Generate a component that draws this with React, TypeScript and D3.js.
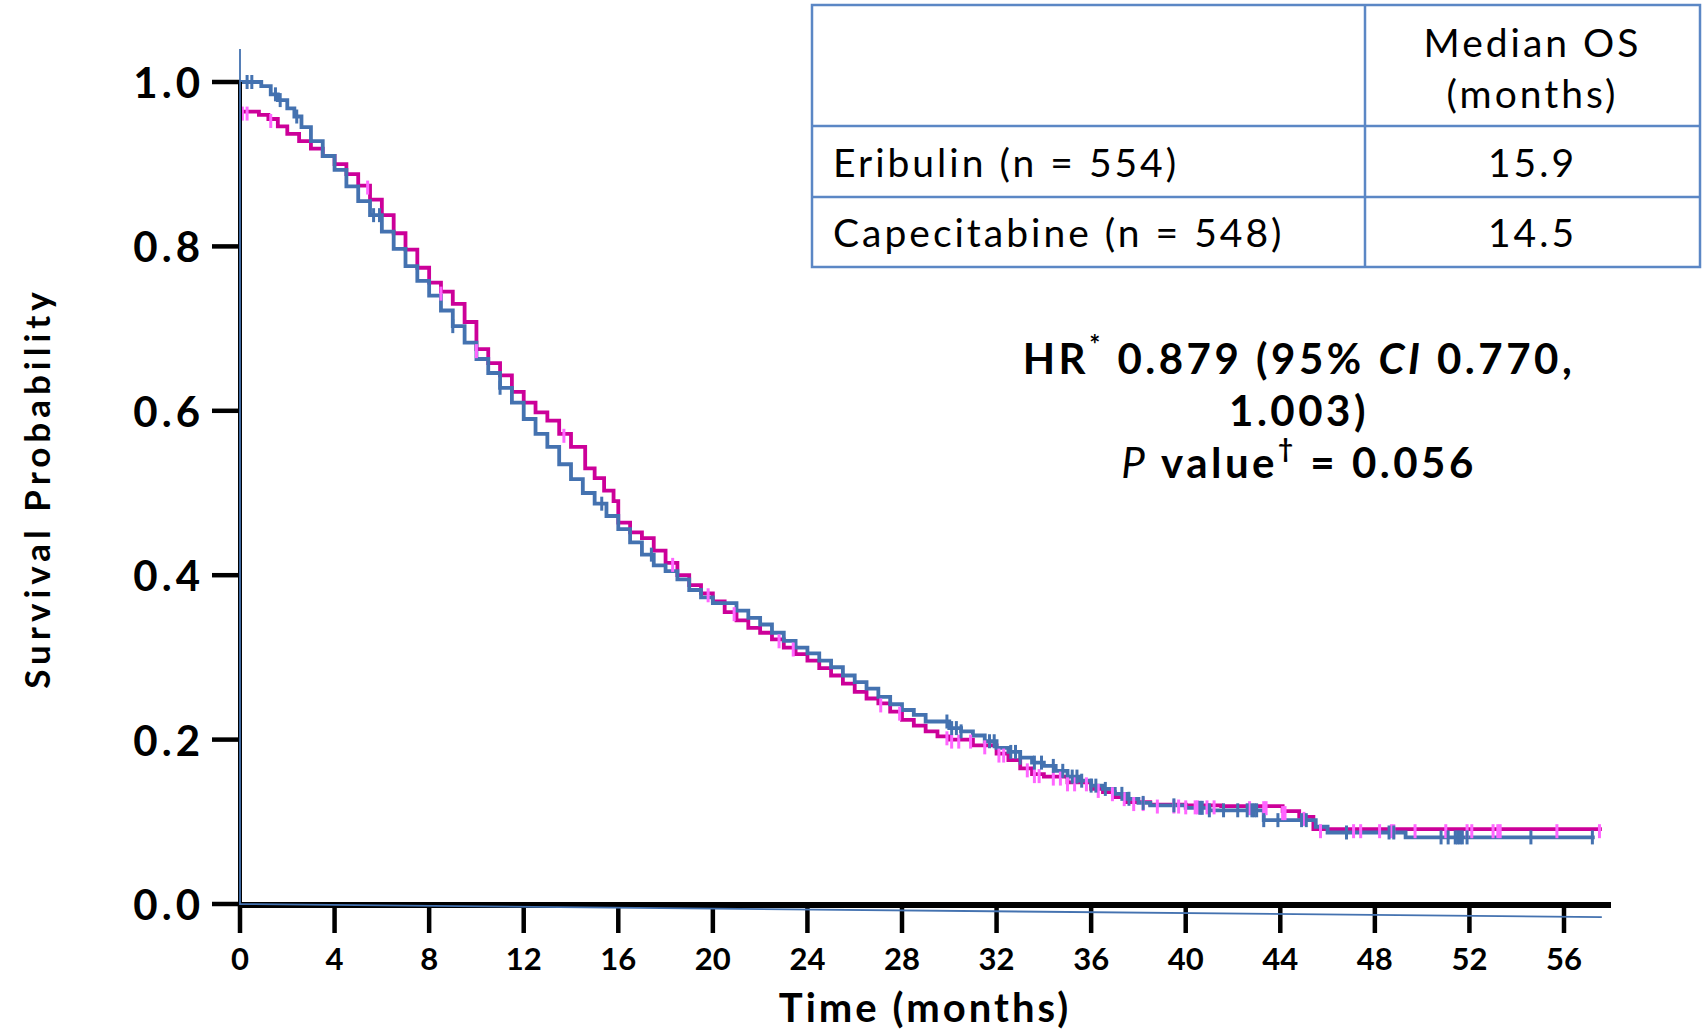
import React from "react";
import * as d3 from "d3";

const xTicks = [0, 4, 8, 12, 16, 20, 24, 28, 32, 36, 40, 44, 48, 52, 56];
const yTicks = [0, 0.2, 0.4, 0.6, 0.8, 1.0];

// Eribulin (magenta) KM curve: [months, survival]
const eribulin: [number, number][] = [
  [0, 0.964], [0.8, 0.96], [1.2, 0.955], [1.6, 0.946], [2.0, 0.937], [2.5, 0.928], [3.0, 0.919], [3.5, 0.91],
  [4.0, 0.9], [4.5, 0.888], [5.0, 0.874], [5.5, 0.857], [6.0, 0.838], [6.5, 0.816], [7.0, 0.796], [7.5, 0.774],
  [8.0, 0.756], [8.5, 0.745], [9.0, 0.73], [9.5, 0.708], [10.0, 0.675], [10.5, 0.658], [11.0, 0.643], [11.5, 0.623],
  [12.0, 0.61], [12.5, 0.598], [13.0, 0.588], [13.5, 0.572], [14.0, 0.556], [14.6, 0.53], [15.0, 0.518], [15.4, 0.503],
  [15.8, 0.49], [16.0, 0.464], [16.5, 0.452], [17.0, 0.445], [17.5, 0.43], [18.0, 0.415], [18.5, 0.4], [19.0, 0.388],
  [19.5, 0.378], [20.0, 0.368], [20.5, 0.355], [21.0, 0.345], [21.5, 0.336], [22.0, 0.33], [22.5, 0.322], [23.0, 0.312],
  [23.5, 0.304], [24.0, 0.296], [24.5, 0.287], [25.0, 0.278], [25.5, 0.268], [26.0, 0.258], [26.5, 0.25], [27.0, 0.244],
  [27.5, 0.234], [28.0, 0.224], [28.5, 0.217], [29.0, 0.21], [29.5, 0.204], [30.0, 0.2], [31.0, 0.193], [32.0, 0.183],
  [32.5, 0.175], [33.0, 0.165], [33.5, 0.158], [34.0, 0.155], [35.0, 0.148], [36.0, 0.14], [36.5, 0.136], [37.0, 0.13],
  [37.5, 0.124], [38.5, 0.121], [40.0, 0.12], [41.5, 0.119], [44.1, 0.113], [44.8, 0.106], [45.4, 0.091], [57.6, 0.091],
];

// Capecitabine (blue) KM curve
const capecitabine: [number, number][] = [
  [0, 1.0], [0.9, 0.995], [1.3, 0.985], [1.6, 0.978], [2.0, 0.968], [2.3, 0.958], [2.6, 0.945], [3.0, 0.928],
  [3.5, 0.91], [4.0, 0.893], [4.5, 0.873], [5.0, 0.855], [5.5, 0.838], [6.0, 0.818], [6.5, 0.797], [7.0, 0.776],
  [7.5, 0.758], [8.0, 0.74], [8.5, 0.722], [9.0, 0.703], [9.5, 0.683], [10.0, 0.663], [10.5, 0.646], [11.0, 0.628],
  [11.5, 0.61], [12.0, 0.59], [12.5, 0.572], [13.0, 0.556], [13.5, 0.535], [14.0, 0.517], [14.5, 0.5], [15.0, 0.487],
  [15.5, 0.472], [16.0, 0.456], [16.5, 0.44], [17.0, 0.425], [17.5, 0.412], [18.0, 0.405], [18.5, 0.395], [19.0, 0.382],
  [19.5, 0.373], [20.0, 0.366], [21.0, 0.357], [21.5, 0.348], [22.0, 0.34], [22.5, 0.33], [23.0, 0.32], [23.5, 0.312],
  [24.0, 0.305], [24.5, 0.296], [25.0, 0.288], [25.5, 0.278], [26.0, 0.27], [26.5, 0.262], [27.0, 0.252], [27.5, 0.243],
  [28.0, 0.236], [28.5, 0.23], [29.0, 0.222], [30.0, 0.214], [30.5, 0.21], [31.0, 0.205], [31.5, 0.198], [32.0, 0.19],
  [32.5, 0.185], [33.0, 0.178], [33.5, 0.172], [34.0, 0.168], [34.5, 0.162], [35.0, 0.155], [35.5, 0.15], [36.0, 0.144],
  [36.5, 0.14], [37.0, 0.134], [37.5, 0.128], [38.0, 0.123], [38.5, 0.12], [40.0, 0.117], [41.0, 0.114], [43.3, 0.102],
  [45.5, 0.094], [46.0, 0.087], [49.3, 0.081], [57.3, 0.081],
];

const eribulinCensor = [
  0.1, 0.3, 1.3, 5.4, 8.5, 10.0, 13.7, 18.3, 19.8, 20.9, 22.8, 23.4, 27.1, 27.9, 29.9, 30.1, 30.4, 30.9, 31.5, 32.1,
  32.3, 33.3, 33.6, 33.8, 34.4, 34.7, 35.0, 35.3, 35.8, 36.3, 36.9, 37.4, 37.8, 38.2, 38.8, 39.5, 39.7, 40.0, 40.4,
  40.5, 40.9, 41.2, 42.7, 43.3, 43.4, 44.1, 44.2, 45.0, 45.7, 47.1, 47.4, 48.2, 48.7, 48.8, 49.7, 51.0, 51.9, 52.1,
  53.0, 53.2, 53.3, 55.7, 57.5,
];

const capecitabineCensor = [
  0.3, 0.5, 1.5, 1.7, 2.4, 5.65, 5.9, 9.0, 11.0, 15.3, 17.4, 29.9, 30.1, 30.3, 30.5, 31.7, 31.9, 32.6, 32.8, 33.0,
  33.6, 33.9, 34.4, 34.8, 35.2, 35.4, 35.6, 36.0, 36.2, 36.6, 37.3, 37.6, 38.2, 39.5, 40.6, 40.7, 41.0, 41.6, 42.2,
  42.6, 42.8, 42.9, 43.0, 43.3, 43.9, 44.9, 45.1, 46.8, 48.6, 48.8, 50.8, 51.1, 51.4, 51.5, 51.6, 51.7, 51.9, 54.6, 57.2,
];

// stray thin guide line seen in the original graphic
const strayLine: [number, number][] = [[0, 1.04], [0, 0], [57.6, -0.016]];

const tableRows = [
  { label: "Eribulin (n = 554)", median: "15.9" },
  { label: "Capecitabine (n = 548)", median: "14.5" },
];

const MAGENTA = "#cc0099";
const PINK = "#ff66ff";
const BLUE = "#4472b0";
const FONT = "'Comic Sans MS', Lato, sans-serif";

function stepValue(data: [number, number][], t: number) {
  let v = data[0][1];
  for (const [x, y] of data) {
    if (x <= t) v = y;
    else break;
  }
  return v;
}

export default function App() {
  const W = 1707;
  const H = 1034;
  const x = d3.scaleLinear().domain([0, 56]).range([240, 1564]);
  const y = d3.scaleLinear().domain([0, 1]).range([904, 82]);

  const line = d3
    .line<[number, number]>()
    .x((d) => x(d[0]))
    .y((d) => y(d[1]))
    .curve(d3.curveStepAfter);
  const straight = d3
    .line<[number, number]>()
    .x((d) => x(d[0]))
    .y((d) => y(d[1]));

  const tbl = { x0: 812, x1: 1700, xm: 1365, y0: 5, y1: 126, y2: 197, y3: 267 };

  return (
    <svg
      width={W}
      height={H}
      style={{ position: "absolute", left: 0, top: 0, background: "#fff" }}
      fontFamily={FONT}
    >
      {/* curves */}
      <path d={line(eribulin) || ""} fill="none" stroke={MAGENTA} strokeWidth={3.8} />
      <path d={line(capecitabine) || ""} fill="none" stroke={BLUE} strokeWidth={3.8} />
      {eribulinCensor.map((c, i) => (
        <line
          key={"ec" + i}
          x1={x(c)}
          x2={x(c)}
          y1={y(stepValue(eribulin, c)) - 5}
          y2={y(stepValue(eribulin, c)) + 9}
          stroke={PINK}
          strokeWidth={3}
        />
      ))}
      {capecitabineCensor.map((c, i) => (
        <line
          key={"cc" + i}
          x1={x(c)}
          x2={x(c)}
          y1={y(stepValue(capecitabine, c)) - 7}
          y2={y(stepValue(capecitabine, c)) + 7}
          stroke={BLUE}
          strokeWidth={3}
        />
      ))}

      {/* Y axis */}
      <line x1={240} x2={240} y1={y(1)} y2={y(0)} stroke="#000" strokeWidth={4} />
      {yTicks.map((t) => (
        <g key={"yt" + t}>
          <line x1={212} x2={240} y1={y(t)} y2={y(t)} stroke="#000" strokeWidth={4.5} />
          <text
            x={204}
            y={y(t)}
            textAnchor="end"
            dominantBaseline="central"
            fontSize={42}
            fontWeight={700}
            letterSpacing={4}
          >
            {t.toFixed(1)}
          </text>
        </g>
      ))}

      {/* X axis */}
      <line x1={238} x2={1611} y1={y(0) + 1} y2={y(0) + 1} stroke="#000" strokeWidth={6} />
      {xTicks.map((t) => (
        <g key={"xt" + t}>
          <line x1={x(t)} x2={x(t)} y1={y(0)} y2={933} stroke="#000" strokeWidth={4.5} />
          <text x={x(t)} y={958} textAnchor="middle" dominantBaseline="central" fontSize={31} fontWeight={700}>
            {t}
          </text>
        </g>
      ))}

      {/* stray thin line */}
      <path d={straight(strayLine) || ""} fill="none" stroke={BLUE} strokeWidth={1.8} />

      {/* axis titles */}
      <text x={925} y={1022} textAnchor="middle" fontSize={40} fontWeight={700} letterSpacing={3}>
        Time (months)
      </text>
      <text
        transform="translate(36,488) rotate(-90)"
        textAnchor="middle"
        dominantBaseline="central"
        fontSize={35}
        fontWeight={700}
        letterSpacing={5}
      >
        Survival Probability
      </text>

      {/* table */}
      <g stroke="#5b87c5" strokeWidth={2.5} fill="none">
        <rect x={tbl.x0} y={tbl.y0} width={tbl.x1 - tbl.x0} height={tbl.y3 - tbl.y0} />
        <line x1={tbl.xm} x2={tbl.xm} y1={tbl.y0} y2={tbl.y3} />
        <line x1={tbl.x0} x2={tbl.x1} y1={tbl.y1} y2={tbl.y1} />
        <line x1={tbl.x0} x2={tbl.x1} y1={tbl.y2} y2={tbl.y2} />
      </g>
      <g fontSize={39} letterSpacing={3}>
        <text x={(tbl.xm + tbl.x1) / 2} y={42} textAnchor="middle" dominantBaseline="central">
          Median OS
        </text>
        <text x={(tbl.xm + tbl.x1) / 2} y={93} textAnchor="middle" dominantBaseline="central">
          (months)
        </text>
        {tableRows.map((r, i) => {
          const cy = i === 0 ? (tbl.y1 + tbl.y2) / 2 : (tbl.y2 + tbl.y3) / 2;
          return (
            <g key={r.label}>
              <text x={833} y={cy} dominantBaseline="central">
                {r.label}
              </text>
              <text x={(tbl.xm + tbl.x1) / 2} y={cy} textAnchor="middle" dominantBaseline="central">
                {r.median}
              </text>
            </g>
          );
        })}
      </g>

      {/* HR text */}
      <g fontSize={42} fontWeight={700} textAnchor="middle" letterSpacing={3.5}>
        <text x={1299} y={358} dominantBaseline="central">
          HR<tspan fontSize={26} dy={-14}>*</tspan>
          <tspan dy={14}> 0.879 (95% </tspan>
          <tspan fontStyle="italic">CI</tspan> 0.770,
        </text>
        <text x={1299} y={410} dominantBaseline="central">
          1.003)
        </text>
        <text x={1299} y={462} dominantBaseline="central">
          <tspan fontStyle="italic" fontWeight={400}>P</tspan> value
          <tspan fontSize={26} dy={-14}>†</tspan>
          <tspan dy={14}> = 0.056</tspan>
        </text>
      </g>
    </svg>
  );
}
